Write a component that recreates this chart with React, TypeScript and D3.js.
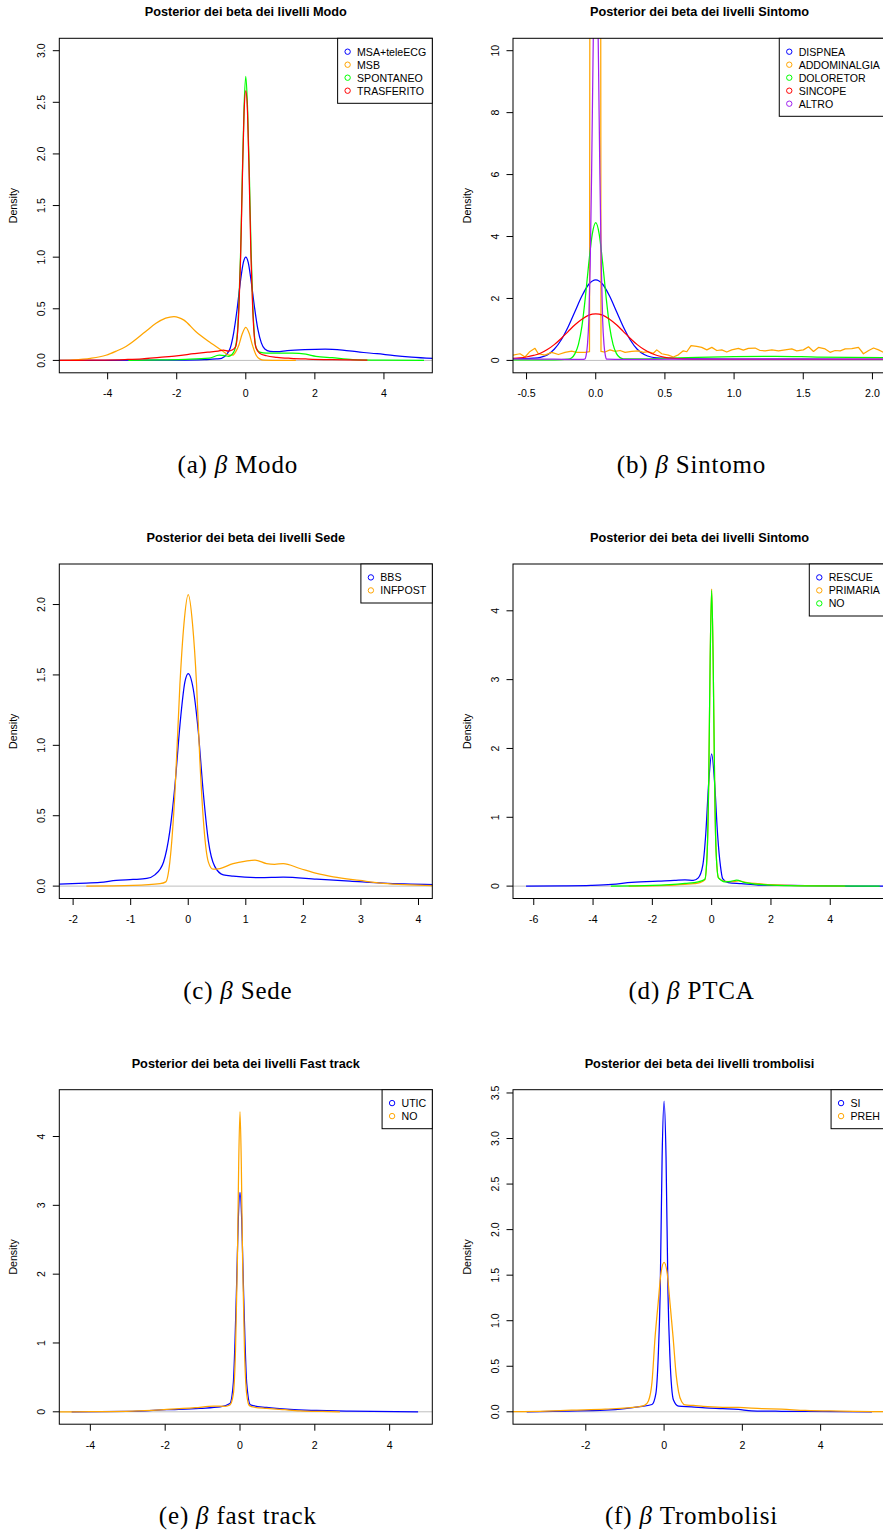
import React from "react";
import * as d3 from "d3";

type Pt = [number, number];

// ---------- (a) Modo ----------
const modoLevels = ["MSA+teleECG", "MSB", "SPONTANEO", "TRASFERITO"];
const modoMsa: Pt[] = [[-5.5, 0], [-4, 0.001], [-2, 0.003], [-1.2, 0.008], [-0.85, 0.014], [-0.7, 0.02], [-0.55, 0.06], [-0.45, 0.12], [-0.35, 0.27], [-0.25, 0.5], [-0.15, 0.78], [-0.07, 0.95], [0, 1.0], [0.07, 0.95], [0.15, 0.78], [0.25, 0.52], [0.35, 0.3], [0.45, 0.17], [0.55, 0.11], [0.7, 0.088], [0.9, 0.085], [1.2, 0.095], [1.7, 0.105], [2.3, 0.11], [2.8, 0.1], [3.3, 0.08], [3.8, 0.065], [4.3, 0.047], [4.8, 0.033], [5.5, 0.018]];
const modoMsb: Pt[] = [[-5.5, 0], [-5, 0.005], [-4.5, 0.02], [-4.05, 0.05], [-3.75, 0.09], [-3.47, 0.135], [-2.9, 0.28], [-2.6, 0.36], [-2.32, 0.41], [-2.08, 0.425], [-1.79, 0.39], [-1.45, 0.28], [-1.06, 0.18], [-0.68, 0.094], [-0.48, 0.05], [-0.38, 0.05], [-0.29, 0.085], [-0.2, 0.15], [-0.1, 0.26], [0, 0.32], [0.1, 0.26], [0.19, 0.15], [0.3, 0.05], [0.4, 0.015], [0.53, 0.002], [1.0, 0], [1.45, 0]];
const modoSpontaneo: Pt[] = [[-3.4, 0], [-2.5, 0.005], [-1.74, 0.01], [-1.06, 0.022], [-0.77, 0.05], [-0.6, 0.045], [-0.5, 0.04], [-0.35, 0.08], [-0.25, 0.24], [-0.2, 0.55], [-0.15, 1.05], [-0.1, 1.8], [-0.05, 2.45], [0, 2.75], [0.05, 2.45], [0.1, 1.85], [0.15, 1.1], [0.2, 0.55], [0.25, 0.24], [0.3, 0.12], [0.4, 0.08], [0.6, 0.07], [1.0, 0.07], [1.35, 0.07], [1.74, 0.06], [2.03, 0.04], [2.5, 0.026], [3.1, 0.008], [4, 0.003], [5.16, 0.001]];
const modoTrasferito: Pt[] = [[-5.5, 0], [-4.5, 0.002], [-3.5, 0.008], [-3, 0.015], [-2.5, 0.03], [-2, 0.045], [-1.5, 0.065], [-1.1, 0.08], [-0.8, 0.09], [-0.65, 0.1], [-0.5, 0.09], [-0.4, 0.1], [-0.3, 0.13], [-0.25, 0.22], [-0.2, 0.5], [-0.15, 1.0], [-0.1, 1.75], [-0.05, 2.4], [0, 2.61], [0.05, 2.4], [0.1, 1.75], [0.15, 1.0], [0.2, 0.5], [0.25, 0.22], [0.3, 0.12], [0.4, 0.07], [0.6, 0.045], [0.9, 0.03], [1.3, 0.02], [1.8, 0.013], [2.5, 0.007], [3.0, 0.004], [3.52, 0.002]];

// ---------- (b) Sintomo ----------
const sintomoLevels = ["DISPNEA", "ADDOMINALGIA", "DOLORETOR", "SINCOPE", "ALTRO"];
const sintomoDispnea: Pt[] = [[-0.6, 0.06], [-0.5, 0.06], [-0.45, 0.07], [-0.4, 0.1], [-0.35, 0.18], [-0.3, 0.36], [-0.25, 0.66], [-0.2, 1.08], [-0.15, 1.58], [-0.1, 2.08], [-0.05, 2.46], [0, 2.6], [0.05, 2.46], [0.1, 2.08], [0.15, 1.58], [0.2, 1.08], [0.25, 0.66], [0.3, 0.36], [0.35, 0.19], [0.4, 0.11], [0.5, 0.07], [0.7, 0.05], [1.0, 0.045], [1.5, 0.04], [2.15, 0.035]];
const sintomoAddominalgia: Pt[] = [[-0.598, 0.17], [-0.547, 0.215], [-0.511, 0.11], [-0.475, 0.29], [-0.439, 0.39], [-0.415, 0.215], [-0.367, 0.17], [-0.318, 0.26], [-0.27, 0.19], [-0.222, 0.26], [-0.174, 0.3], [-0.137, 0.26], [-0.077, 0.26], [-0.045, 0.28], [-0.036, 40], [0.031, 40], [0.038, 0.29], [0.067, 0.27], [0.103, 0.34], [0.14, 0.29], [0.176, 0.32], [0.212, 0.26], [0.26, 0.29], [0.308, 0.31], [0.344, 0.26], [0.38, 0.28], [0.417, 0.23], [0.441, 0.34], [0.477, 0.215], [0.525, 0.17], [0.561, 0.11], [0.597, 0.18], [0.633, 0.31], [0.658, 0.28], [0.689, 0.48], [0.73, 0.45], [0.766, 0.42], [0.803, 0.34], [0.839, 0.42], [0.875, 0.32], [0.911, 0.34], [0.947, 0.27], [0.983, 0.34], [1.031, 0.39], [1.067, 0.33], [1.103, 0.39], [1.152, 0.4], [1.188, 0.32], [1.224, 0.31], [1.273, 0.34], [1.321, 0.31], [1.369, 0.34], [1.417, 0.37], [1.453, 0.31], [1.501, 0.34], [1.538, 0.44], [1.574, 0.29], [1.61, 0.42], [1.658, 0.37], [1.694, 0.26], [1.73, 0.32], [1.767, 0.31], [1.803, 0.37], [1.851, 0.38], [1.899, 0.42], [1.935, 0.215], [1.973, 0.32], [2.008, 0.4], [2.044, 0.34], [2.08, 0.26], [2.12, 0.3]];
const sintomoDoloretor: Pt[] = [[-0.6, 0.02], [-0.3, 0.02], [-0.2, 0.04], [-0.175, 0.08], [-0.15, 0.22], [-0.125, 0.52], [-0.1, 1.1], [-0.075, 2.04], [-0.05, 3.15], [-0.025, 4.08], [0, 4.45], [0.025, 4.08], [0.05, 3.15], [0.075, 2.04], [0.1, 1.1], [0.125, 0.52], [0.15, 0.22], [0.175, 0.09], [0.2, 0.05], [0.3, 0.05], [0.6, 0.08], [1.0, 0.12], [1.3, 0.13], [1.6, 0.11], [2.15, 0.09]];
const sintomoSincope: Pt[] = [[-0.6, 0.065], [-0.55, 0.08], [-0.5, 0.11], [-0.45, 0.16], [-0.4, 0.23], [-0.35, 0.35], [-0.3, 0.51], [-0.25, 0.71], [-0.2, 0.93], [-0.15, 1.15], [-0.1, 1.33], [-0.05, 1.46], [0, 1.5], [0.05, 1.46], [0.1, 1.33], [0.15, 1.15], [0.2, 0.93], [0.25, 0.71], [0.3, 0.51], [0.35, 0.35], [0.4, 0.23], [0.45, 0.15], [0.5, 0.1], [0.55, 0.07], [0.65, 0.045], [0.8, 0.035], [1.2, 0.03], [2.15, 0.03]];
const sintomoAltro: Pt[] = [[-0.6, 0.05], [-0.3, 0.04], [-0.1, 0.03], [-0.08, 0.04], [-0.07, 0.15], [-0.06, 0.5], [-0.05, 1.3], [-0.04, 3.1], [-0.03, 6.0], [-0.02, 9.6], [-0.01, 12.7], [0, 14], [0.01, 12.7], [0.02, 9.6], [0.03, 6.0], [0.04, 3.1], [0.05, 1.3], [0.06, 0.5], [0.07, 0.15], [0.08, 0.04], [0.2, 0.03], [0.6, 0.04], [1.2, 0.04], [2.15, 0.04]];

// ---------- (c) Sede ----------
const sedeLevels = ["BBS", "INFPOST"];
const sedeBbs: Pt[] = [[-2.3, 0.013], [-1.9, 0.02], [-1.53, 0.026], [-1.25, 0.04], [-0.96, 0.047], [-0.72, 0.055], [-0.58, 0.08], [-0.43, 0.17], [-0.32, 0.39], [-0.23, 0.72], [-0.145, 1.14], [-0.058, 1.45], [0, 1.51], [0.087, 1.4], [0.174, 1.1], [0.26, 0.67], [0.35, 0.32], [0.46, 0.14], [0.61, 0.08], [0.78, 0.071], [1.24, 0.06], [1.65, 0.064], [2.23, 0.05], [2.81, 0.036], [3.39, 0.021], [4.3, 0.011]];
const sedeInfpost: Pt[] = [[-1.77, 0], [-0.96, 0.005], [-0.49, 0.017], [-0.39, 0.03], [-0.32, 0.17], [-0.23, 0.67], [-0.145, 1.43], [-0.075, 1.86], [0, 2.07], [0.075, 1.86], [0.145, 1.43], [0.2, 0.91], [0.27, 0.43], [0.35, 0.17], [0.43, 0.12], [0.55, 0.125], [0.78, 0.16], [1.0, 0.178], [1.16, 0.185], [1.36, 0.16], [1.5, 0.155], [1.65, 0.16], [1.94, 0.125], [2.23, 0.09], [2.52, 0.066], [2.98, 0.04], [3.39, 0.019], [4.3, 0.003]];

// ---------- (d) PTCA ----------
const ptcaLevels = ["RESCUE", "PRIMARIA", "NO"];
const ptcaRescue: Pt[] = [[-6.26, 0], [-5, 0.003], [-4.07, 0.01], [-3.37, 0.024], [-2.7, 0.053], [-1.8, 0.073], [-1.26, 0.082], [-0.9, 0.092], [-0.62, 0.083], [-0.45, 0.12], [-0.3, 0.3], [-0.2, 0.75], [-0.1, 1.5], [0, 1.92], [0.1, 1.5], [0.2, 0.75], [0.3, 0.28], [0.37, 0.11], [0.56, 0.05], [1.0, 0.035], [1.57, 0.015], [2.67, 0.01], [4, 0.003], [5.9, 0]];
const ptcaPrimaria: Pt[] = [[-2.8, 0], [-1.5, 0.01], [-0.9, 0.025], [-0.6, 0.035], [-0.4, 0.05], [-0.23, 0.09], [-0.15, 0.5], [-0.1, 1.5], [-0.05, 3.3], [0, 4.32], [0.05, 3.3], [0.1, 1.5], [0.15, 0.5], [0.23, 0.12], [0.45, 0.07], [0.7, 0.065], [0.9, 0.075], [1.2, 0.05], [1.6, 0.035], [2.0, 0.02], [3, 0.006], [4.5, 0]];
const ptcaNo: Pt[] = [[-3.4, 0], [-2, 0.01], [-0.9, 0.04], [-0.45, 0.063], [-0.23, 0.1], [-0.15, 0.5], [-0.1, 1.5], [-0.05, 3.3], [0, 4.3], [0.05, 3.3], [0.1, 1.5], [0.15, 0.5], [0.23, 0.12], [0.45, 0.063], [0.65, 0.07], [0.84, 0.087], [1.12, 0.05], [1.5, 0.03], [2.02, 0.015], [3, 0.005], [5.67, 0]];

// ---------- (e) Fast track ----------
const fastLevels = ["UTIC", "NO"];
const fastUtic: Pt[] = [[-4.5, 0], [-3, 0.005], [-1.96, 0.03], [-1.07, 0.05], [-0.53, 0.07], [-0.27, 0.12], [-0.18, 0.41], [-0.135, 1.0], [-0.09, 1.86], [-0.045, 2.8], [0, 3.19], [0.045, 2.8], [0.09, 1.86], [0.135, 1.0], [0.18, 0.41], [0.28, 0.1], [0.71, 0.063], [1.34, 0.034], [2.05, 0.02], [2.94, 0.01], [4.76, 0]];
const fastNo: Pt[] = [[-4.9, 0], [-4, 0.002], [-2.85, 0.01], [-1.96, 0.034], [-1.2, 0.06], [-0.71, 0.082], [-0.4, 0.08], [-0.27, 0.1], [-0.18, 0.25], [-0.12, 0.9], [-0.07, 2.18], [-0.035, 3.6], [0, 4.36], [0.035, 3.6], [0.07, 2.18], [0.12, 0.9], [0.18, 0.25], [0.25, 0.09], [0.4, 0.065], [0.71, 0.05], [1.2, 0.03], [1.6, 0.015], [2.2, 0.005], [2.67, 0]];

// ---------- (f) Trombolisi ----------
const tromboLevels = ["SI", "PREH"];
const tromboSi: Pt[] = [[-3.51, 0], [-2.5, 0.008], [-1.51, 0.018], [-1, 0.035], [-0.66, 0.055], [-0.31, 0.08], [-0.21, 0.2], [-0.15, 0.6], [-0.1, 1.3], [-0.05, 2.8], [0, 3.41], [0.05, 2.8], [0.1, 1.3], [0.15, 0.6], [0.24, 0.13], [0.37, 0.062], [0.7, 0.055], [1.05, 0.044], [1.5, 0.035], [1.9, 0.026], [2.24, 0.011], [3, 0.006], [3.61, 0.004], [5.31, 0]];
const tromboPreh: Pt[] = [[-4.07, 0], [-3, 0.008], [-2.36, 0.018], [-1.5, 0.03], [-0.66, 0.055], [-0.5, 0.07], [-0.4, 0.12], [-0.31, 0.32], [-0.23, 0.82], [-0.15, 1.2], [-0.08, 1.52], [0, 1.64], [0.08, 1.52], [0.15, 1.2], [0.23, 0.82], [0.31, 0.4], [0.37, 0.22], [0.45, 0.11], [0.54, 0.075], [0.75, 0.07], [1.0, 0.06], [1.5, 0.05], [1.9, 0.048], [2.5, 0.035], [3, 0.03], [3.61, 0.015], [4.5, 0.008], [5.31, 0.003], [5.8, 0.002]];

// tick values
const modoXTicks = [-4, -2, 0, 2, 4];
const modoYTicks = [0, 0.5, 1, 1.5, 2, 2.5, 3];
const sintomoXTicks = [-0.5, 0, 0.5, 1, 1.5, 2];
const sintomoYTicks = [0, 2, 4, 6, 8, 10];
const sedeXTicks = [-2, -1, 0, 1, 2, 3, 4];
const sedeYTicks = [0, 0.5, 1, 1.5, 2];
const ptcaXTicks = [-6, -4, -2, 0, 2, 4];
const ptcaYTicks = [0, 1, 2, 3, 4];
const fastXTicks = [-4, -2, 0, 2, 4];
const fastYTicks = [0, 1, 2, 3, 4];
const tromboXTicks = [-2, 0, 2, 4];
const tromboYTicks = [0, 0.5, 1, 1.5, 2, 2.5, 3, 3.5];

const BLUE = "#0000FF";
const ORANGE = "#FFA500";
const GREEN = "#00FF00";
const RED = "#FF0000";
const PURPLE = "#A020F0";

const SANS = "'Liberation Sans', Arial, Helvetica, sans-serif";
const SERIF = "'Liberation Serif', 'DejaVu Serif', serif";
const BASE = 10.6;

type Series = { name: string; color: string; data: Pt[]; linear?: boolean };
type PanelSpec = {
  id: string;
  title: string;
  caption: string;
  captionName: string;
  left: number;
  top: number;
  xDomain: [number, number];
  yDomain: [number, number];
  xTicks: number[];
  yTicks: number[];
  xFmt: (v: number) => string;
  yFmt: (v: number) => string;
  series: Series[];
};

const W = 373;
const H = 334.5;

let measureCtx: CanvasRenderingContext2D | null = null;
function textWidth(s: string, font: string): number {
  if (!measureCtx) {
    const c = document.createElement("canvas");
    measureCtx = c.getContext("2d");
  }
  if (!measureCtx) return s.length * 6;
  measureCtx.font = font;
  return measureCtx.measureText(s).width;
}

const f1 = (v: number) => v.toFixed(1);
const f0 = (v: number) => String(v);

function Panel({ p }: { p: PanelSpec }) {
  const x = d3.scaleLinear().domain(p.xDomain).range([p.left, p.left + W]);
  const y = d3.scaleLinear().domain(p.yDomain).range([p.top + H, p.top]);
  const bottom = p.top + H;
  const right = p.left + W;
  const clipId = `clip-${p.id}`;
  const font = `${BASE}px ${SANS}`;
  const maxW = d3.max(p.series, (s) => textWidth(s.name, font)) || 0;
  const legW = maxW + 25.5;
  const legL = right - legW;
  const legH = 13 * p.series.length + 13;
  const cx = (p.left + right) / 2;
  const cy = (p.top + bottom) / 2;

  return (
    <g>
      <defs>
        <clipPath id={clipId}>
          <rect x={p.left} y={p.top} width={W} height={H} />
        </clipPath>
      </defs>
      <text x={cx} y={p.top - 22} textAnchor="middle" fontFamily={SANS} fontWeight="bold" fontSize={BASE * 1.2}>
        {p.title}
      </text>
      <g clipPath={`url(#${clipId})`}>
        <line x1={p.left} x2={right} y1={y(0)} y2={y(0)} stroke="#bebebe" strokeWidth={1} />
        {p.series.map((s) => {
          const line = d3
            .line<Pt>()
            .x((d) => x(d[0]))
            .y((d) => y(d[1]))
            .curve(s.linear ? d3.curveLinear : d3.curveMonotoneX);
          return <path key={s.name} d={line(s.data) || ""} fill="none" stroke={s.color} strokeWidth={1.25} strokeLinejoin="round" />;
        })}
      </g>
      <rect x={p.left} y={p.top} width={W} height={H} fill="none" stroke="#000" strokeWidth={1} />
      {p.xTicks.map((t) => (
        <g key={`xt${t}`}>
          <line x1={x(t)} x2={x(t)} y1={bottom} y2={bottom + 6.5} stroke="#000" strokeWidth={1} />
          <text x={x(t)} y={bottom + 24.5} textAnchor="middle" fontFamily={SANS} fontSize={BASE}>
            {p.xFmt(t)}
          </text>
        </g>
      ))}
      {p.yTicks.map((t) => (
        <g key={`yt${t}`}>
          <line x1={p.left - 6.5} x2={p.left} y1={y(t)} y2={y(t)} stroke="#000" strokeWidth={1} />
          <text
            transform={`translate(${p.left - 14.3},${y(t)}) rotate(-90)`}
            textAnchor="middle"
            fontFamily={SANS}
            fontSize={BASE}
          >
            {p.yFmt(t)}
          </text>
        </g>
      ))}
      <text transform={`translate(${p.left - 42.3},${cy}) rotate(-90)`} textAnchor="middle" fontFamily={SANS} fontSize={BASE}>
        Density
      </text>
      <rect x={legL} y={p.top} width={legW} height={legH} fill="#fff" stroke="#000" strokeWidth={1} />
      {p.series.map((s, i) => (
        <g key={`lg${s.name}`}>
          <circle cx={legL + 10} cy={p.top + 13.4 + 13 * i} r={2.7} fill="none" stroke={s.color} strokeWidth={1} />
          <text x={legL + 19.4} y={p.top + 13.4 + 13 * i + 3.8} fontFamily={SANS} fontSize={BASE}>
            {s.name}
          </text>
        </g>
      ))}
      <text x={cx - 8} y={bottom + 100} textAnchor="middle" fontFamily={SERIF} fontSize={25} letterSpacing={0.8}>
        {p.caption} <tspan fontStyle="italic">β</tspan> {p.captionName}
      </text>
    </g>
  );
}

const LEFT_A = 59.3;
const LEFT_B = 513;
const ROW_TOPS = [38.3, 564, 1089.7];

const panels: PanelSpec[] = [
  {
    id: "a", title: "Posterior dei beta dei livelli Modo", caption: "(a)", captionName: "Modo",
    left: LEFT_A, top: ROW_TOPS[0], xDomain: [-5.4, 5.4], yDomain: [-0.12, 3.12],
    xTicks: modoXTicks, yTicks: modoYTicks, xFmt: f0, yFmt: f1,
    series: [
      { name: modoLevels[0], color: BLUE, data: modoMsa },
      { name: modoLevels[1], color: ORANGE, data: modoMsb },
      { name: modoLevels[2], color: GREEN, data: modoSpontaneo },
      { name: modoLevels[3], color: RED, data: modoTrasferito },
    ],
  },
  {
    id: "b", title: "Posterior dei beta dei livelli Sintomo", caption: "(b)", captionName: "Sintomo",
    left: LEFT_B, top: ROW_TOPS[0], xDomain: [-0.598, 2.098], yDomain: [-0.4, 10.4],
    xTicks: sintomoXTicks, yTicks: sintomoYTicks, xFmt: f1, yFmt: f0,
    series: [
      { name: sintomoLevels[0], color: BLUE, data: sintomoDispnea },
      { name: sintomoLevels[1], color: ORANGE, data: sintomoAddominalgia, linear: true },
      { name: sintomoLevels[2], color: GREEN, data: sintomoDoloretor },
      { name: sintomoLevels[3], color: RED, data: sintomoSincope },
      { name: sintomoLevels[4], color: PURPLE, data: sintomoAltro },
    ],
  },
  {
    id: "c", title: "Posterior dei beta dei livelli Sede", caption: "(c)", captionName: "Sede",
    left: LEFT_A, top: ROW_TOPS[1], xDomain: [-2.24, 4.24], yDomain: [-0.088, 2.288],
    xTicks: sedeXTicks, yTicks: sedeYTicks, xFmt: f0, yFmt: f1,
    series: [
      { name: sedeLevels[0], color: BLUE, data: sedeBbs },
      { name: sedeLevels[1], color: ORANGE, data: sedeInfpost },
    ],
  },
  {
    id: "d", title: "Posterior dei beta dei livelli Sintomo", caption: "(d)", captionName: "PTCA",
    left: LEFT_B, top: ROW_TOPS[1], xDomain: [-6.7, 5.88], yDomain: [-0.18, 4.68],
    xTicks: ptcaXTicks, yTicks: ptcaYTicks, xFmt: f0, yFmt: f0,
    series: [
      { name: ptcaLevels[0], color: BLUE, data: ptcaRescue },
      { name: ptcaLevels[1], color: ORANGE, data: ptcaPrimaria },
      { name: ptcaLevels[2], color: GREEN, data: ptcaNo },
    ],
  },
  {
    id: "e", title: "Posterior dei beta dei livelli Fast track", caption: "(e)", captionName: "fast track",
    left: LEFT_A, top: ROW_TOPS[2], xDomain: [-4.83, 5.14], yDomain: [-0.18, 4.68],
    xTicks: fastXTicks, yTicks: fastYTicks, xFmt: f0, yFmt: f0,
    series: [
      { name: fastLevels[0], color: BLUE, data: fastUtic },
      { name: fastLevels[1], color: ORANGE, data: fastNo },
    ],
  },
  {
    id: "f", title: "Posterior dei beta dei livelli trombolisi", caption: "(f)", captionName: "Trombolisi",
    left: LEFT_B, top: ROW_TOPS[2], xDomain: [-3.86, 5.67], yDomain: [-0.136, 3.536],
    xTicks: tromboXTicks, yTicks: tromboYTicks, xFmt: f0, yFmt: f1,
    series: [
      { name: tromboLevels[0], color: BLUE, data: tromboSi },
      { name: tromboLevels[1], color: ORANGE, data: tromboPreh },
    ],
  },
];

export default function App() {
  return (
    <div style={{ position: "absolute", left: 0, top: 0, background: "#fff" }}>
      <svg width={883} height={1531} viewBox="0 0 883 1531" style={{ display: "block" }}>
        <rect width={883} height={1531} fill="#fff" />
        {panels.map((p) => (
          <Panel key={p.id} p={p} />
        ))}
      </svg>
    </div>
  );
}
